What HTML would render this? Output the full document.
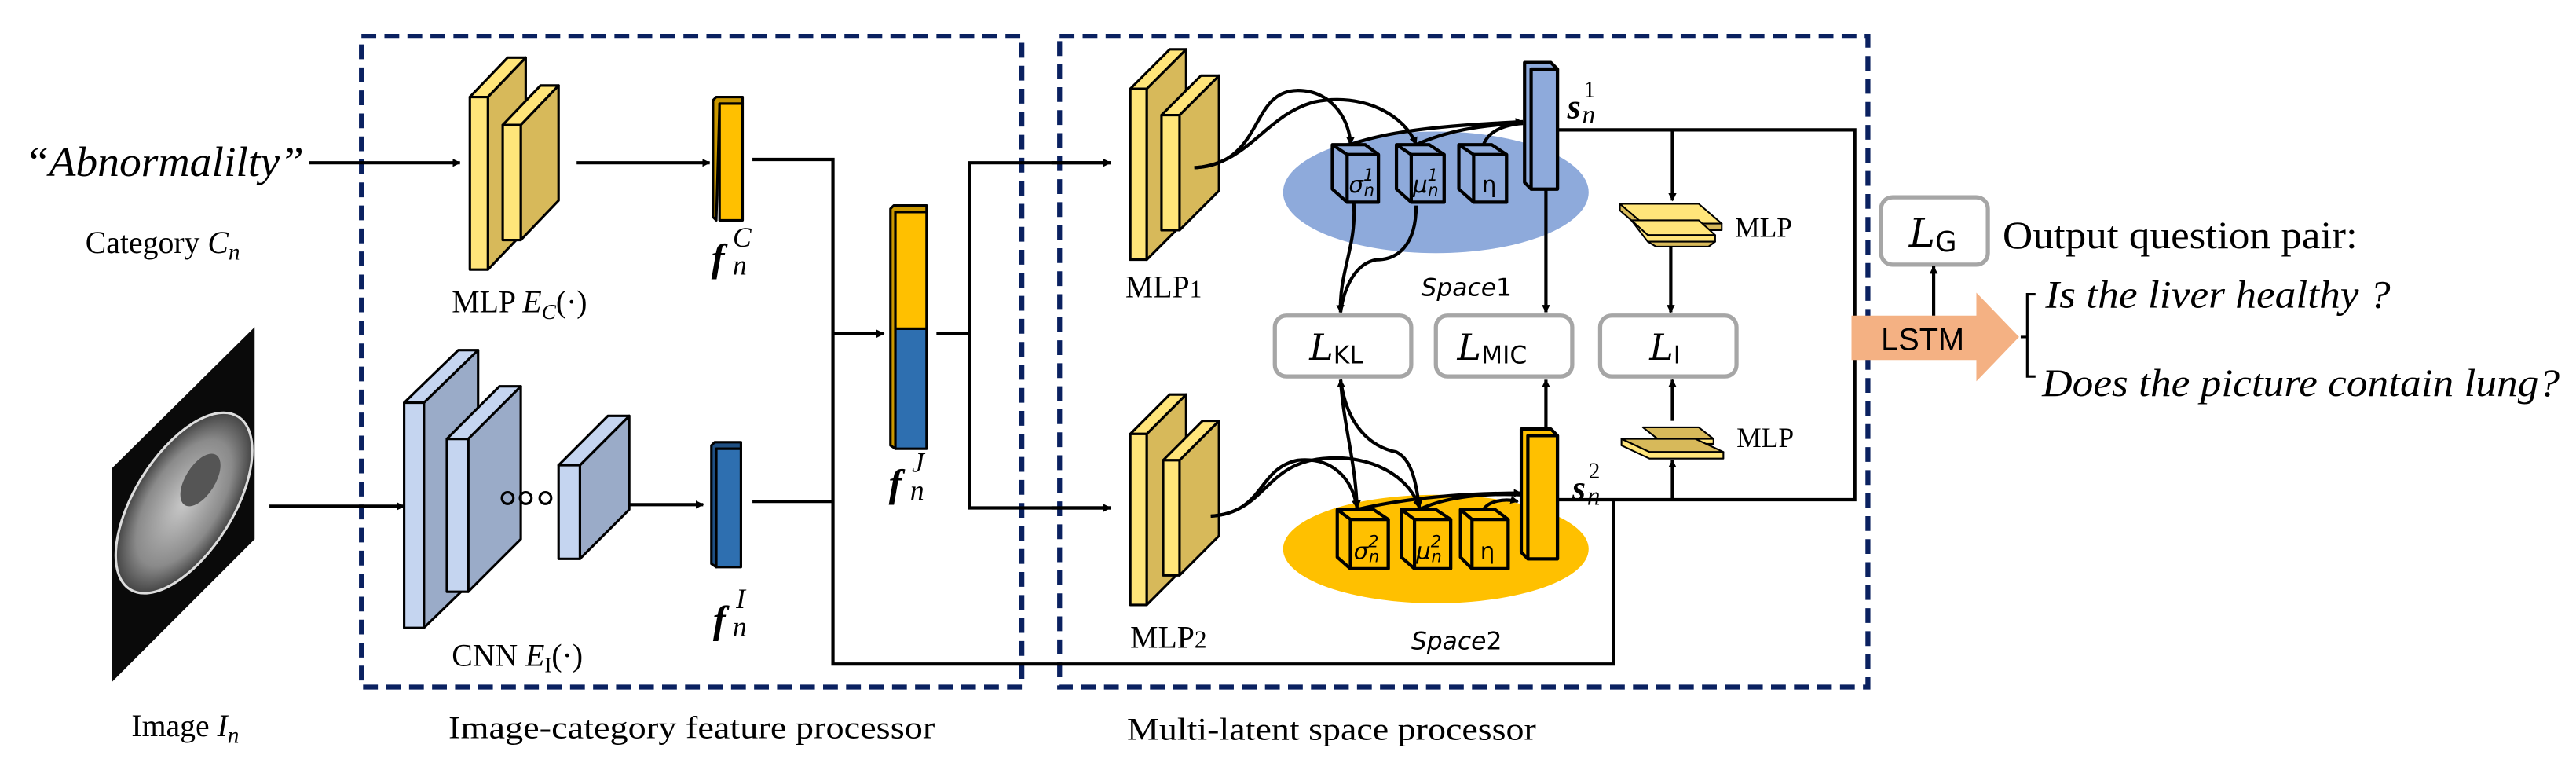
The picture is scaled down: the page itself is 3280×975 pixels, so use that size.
<!DOCTYPE html>
<html><head><meta charset="utf-8"><style>html,body{margin:0;padding:0;background:#fff}svg{display:block}</style></head>
<body>
<svg width="3280" height="975" viewBox="0 0 1568 466" xmlns="http://www.w3.org/2000/svg" font-family="'Liberation Serif', serif">
<defs>
<marker id="ah" viewBox="0 0 10 10" refX="9" refY="5" markerWidth="5" markerHeight="5" orient="auto-start-reverse" markerUnits="userSpaceOnUse"><path d="M0,0 L10,5 L0,10 z" fill="#000"/></marker>
<radialGradient id="ct" cx="50%" cy="50%" r="50%"><stop offset="0" stop-color="#c8c8c8"/><stop offset="0.7" stop-color="#8a8a8a"/><stop offset="1" stop-color="#444"/></radialGradient>
</defs>
<g fill="none" stroke="#0a2160" stroke-width="3" stroke-dasharray="9,5">
<rect x="220" y="22" width="402" height="396"/>
<rect x="645" y="22" width="492" height="396"/>
</g>
<text x="15" y="107" font-size="26" font-style="italic" textLength="170" lengthAdjust="spacingAndGlyphs">“Abnormalilty”</text>
<text x="52" y="154" font-size="19">Category <tspan font-style="italic">C</tspan><tspan font-style="italic" font-size="14" dy="4">n</tspan></text>
<polygon points="68,285 155,199 155,328 68,415" fill="#0a0a0a"/>
<ellipse cx="112" cy="306" rx="30" ry="62" transform="rotate(32 112 306)" fill="url(#ct)" stroke="#ddd" stroke-width="1.5"/>
<ellipse cx="122" cy="292" rx="9" ry="18" transform="rotate(32 122 292)" fill="#555"/>
<text x="80" y="448" font-size="19">Image <tspan font-style="italic">I</tspan><tspan font-style="italic" font-size="14" dy="4">n</tspan></text>
<g stroke="#000" stroke-width="2" fill="none">
<line x1="188" y1="99" x2="280" y2="99" marker-end="url(#ah)"/>
<line x1="164" y1="308" x2="246" y2="308" marker-end="url(#ah)"/>
<line x1="351" y1="99" x2="432" y2="99" marker-end="url(#ah)"/>
<line x1="376" y1="307" x2="428" y2="307" marker-end="url(#ah)"/>
<polyline points="458,97 507,97 507,404 982,404 982,304"/>
<line x1="458" y1="305" x2="507" y2="305"/>
<line x1="507" y1="203" x2="538" y2="203" marker-end="url(#ah)"/>
<polyline points="570,203 590,203"/>
<polyline points="676,99 590,99 590,309 676,309"/>
<line x1="640" y1="99" x2="676" y2="99" marker-end="url(#ah)"/>
<line x1="640" y1="309" x2="676" y2="309" marker-end="url(#ah)"/>
</g>
<g stroke="#000" stroke-width="1.5" stroke-linejoin="round">
<polygon points="297,59 320,35 320,140 297,164" fill="#d7b95a"/>
<polygon points="286,59 309,35 320,35 297,59" fill="#ffe57a"/>
<rect x="286" y="59" width="11" height="105" fill="#ffe57a"/>
<polygon points="317,76 340,52 340,122 317,146" fill="#d7b95a"/>
<polygon points="306,76 329,52 340,52 317,76" fill="#ffe57a"/>
<rect x="306" y="76" width="11" height="70" fill="#ffe57a"/>
</g>
<text x="275" y="190" font-size="19">MLP <tspan font-style="italic">E</tspan><tspan font-style="italic" font-size="13" dy="4">C</tspan><tspan dy="-4">(·)</tspan></text>
<g stroke="#000" stroke-width="1.5" stroke-linejoin="round">
<polygon points="258,245 291,213 291,350 258,382" fill="#9aabc8"/>
<polygon points="246,245 279,213 291,213 258,245" fill="#c5d5f0"/>
<rect x="246" y="245" width="12" height="137" fill="#c5d5f0"/>
<polygon points="285,267 317,235 317,328 285,360" fill="#9aabc8"/>
<polygon points="272,267 304,235 317,235 285,267" fill="#c5d5f0"/>
<rect x="272" y="267" width="13" height="93" fill="#c5d5f0"/>
<polygon points="353,283 383,253 383,310 353,340" fill="#9aabc8"/>
<polygon points="340,283 370,253 383,253 353,283" fill="#c5d5f0"/>
<rect x="340" y="283" width="13" height="57" fill="#c5d5f0"/>
<circle cx="309" cy="303" r="3.5" fill="none"/><circle cx="320" cy="303" r="3.5" fill="none"/><circle cx="332" cy="303" r="3.5" fill="none"/>
</g>
<text x="275" y="405" font-size="19">CNN <tspan font-style="italic">E</tspan><tspan font-size="13" dy="4">I</tspan><tspan dy="-4">(·)</tspan></text>
<g stroke="#000" stroke-width="1.5" stroke-linejoin="round">
<polygon points="434,61 436,59 452,59 452,63 438,63 436,134 434,132" fill="#c99700"/>
<rect x="438" y="63" width="14" height="71" fill="#ffc000"/>
<polygon points="433,271 435,269 451,269 451,273 436,273 436,345 433,343" fill="#1f4f82"/>
<rect x="436" y="273" width="15" height="72" fill="#2e6fb0"/>
<polygon points="542,127 544,125 564,125 564,129 545,129 545,273 542,271" fill="#c99700"/>
<rect x="545" y="129" width="19" height="71" fill="#ffc000"/>
<rect x="545" y="200" width="19" height="73" fill="#2e6fb0"/>
</g>
<g font-style="italic" font-weight="bold" font-size="24">
<text x="433" y="165">f</text><text x="434" y="385">f</text><text x="541" y="302">f</text>
</g>
<g font-style="italic" font-size="17">
<text x="446" y="150">C</text><text x="446" y="167">n</text>
<text x="448" y="370">I</text><text x="446" y="387">n</text>
<text x="555" y="287">J</text><text x="554" y="304">n</text>
</g>
<text x="273" y="449" font-size="19" textLength="296" lengthAdjust="spacingAndGlyphs">Image-category feature processor</text>
<g stroke="#000" stroke-width="1.5" stroke-linejoin="round">
<polygon points="698,54 722,30 722,134 698,158" fill="#d7b95a"/>
<polygon points="688,54 712,30 722,30 698,54" fill="#ffe57a"/>
<rect x="688" y="54" width="10" height="104" fill="#ffe57a"/>
<polygon points="718,70 742,46 742,116 718,140" fill="#d7b95a"/>
<polygon points="707,70 731,46 742,46 718,70" fill="#ffe57a"/>
<rect x="707" y="70" width="11" height="70" fill="#ffe57a"/>
<polygon points="698,264 722,240 722,344 698,368" fill="#d7b95a"/>
<polygon points="688,264 712,240 722,240 698,264" fill="#ffe57a"/>
<rect x="688" y="264" width="10" height="104" fill="#ffe57a"/>
<polygon points="718,280 742,256 742,326 718,350" fill="#d7b95a"/>
<polygon points="708,280 732,256 742,256 718,280" fill="#ffe57a"/>
<rect x="708" y="280" width="10" height="70" fill="#ffe57a"/>
</g>
<text x="685" y="181" font-size="19">MLP<tspan font-size="15">1</tspan></text>
<text x="688" y="394" font-size="19">MLP<tspan font-size="15">2</tspan></text>
<ellipse cx="874" cy="117" rx="93" ry="37" fill="#8eaadb"/>
<ellipse cx="874" cy="334" rx="93" ry="33" fill="#ffc000"/>
<g stroke="#000" stroke-width="2" stroke-linejoin="round">
<g fill="#8eaadb">
<polygon points="811,88 831,88 839,94 839,123 820,123 811,115"/><rect x="820" y="94" width="19" height="29"/><line x1="811" y1="88" x2="820" y2="94"/>
<polygon points="850,88 870,88 879,94 879,123 859,123 850,115"/><rect x="859" y="94" width="20" height="29"/><line x1="850" y1="88" x2="859" y2="94"/>
<polygon points="888,88 908,88 917,94 917,123 897,123 888,115"/><rect x="897" y="94" width="20" height="29"/><line x1="888" y1="88" x2="897" y2="94"/>
<polygon points="928,38 944,38 948,42 948,115 932,115 928,111"/><rect x="932" y="42" width="16" height="73"/>
</g>
<g fill="#ffc000">
<polygon points="814,310 836,310 845,316 845,346 822,346 814,339"/><rect x="822" y="316" width="23" height="30"/><line x1="814" y1="310" x2="822" y2="316"/>
<polygon points="853,310 874,310 883,316 883,346 861,346 853,339"/><rect x="861" y="316" width="22" height="30"/><line x1="853" y1="310" x2="861" y2="316"/>
<polygon points="889,310 910,310 918,316 918,346 896,346 889,339"/><rect x="896" y="316" width="22" height="30"/><line x1="889" y1="310" x2="896" y2="316"/>
<polygon points="926,261 944,261 948,265 948,340 930,340 926,336"/><rect x="930" y="265" width="18" height="75"/>
</g>
</g>
<g font-family="'DejaVu Sans', sans-serif" font-size="14">
<text x="821" y="117" font-style="italic">σ<tspan font-size="10" dy="-7">1</tspan><tspan font-size="10" dx="-6" dy="9">n</tspan></text>
<text x="860" y="117" font-style="italic">μ<tspan font-size="10" dy="-7">1</tspan><tspan font-size="10" dx="-6" dy="9">n</tspan></text>
<text x="902" y="117">η</text>
<text x="824" y="340" font-style="italic">σ<tspan font-size="10" dy="-7">2</tspan><tspan font-size="10" dx="-6" dy="9">n</tspan></text>
<text x="862" y="340" font-style="italic">μ<tspan font-size="10" dy="-7">2</tspan><tspan font-size="10" dx="-6" dy="9">n</tspan></text>
<text x="901" y="340">η</text>
</g>
<text x="954" y="72" font-size="21" font-style="italic" font-weight="bold">s</text><text x="964" y="59" font-size="14">1</text><text x="963" y="75" font-size="16" font-style="italic">n</text>
<text x="957" y="304" font-size="21" font-style="italic" font-weight="bold">s</text><text x="967" y="291" font-size="14">2</text><text x="966" y="307" font-size="16" font-style="italic">n</text>
<text x="865" y="180" font-size="15" font-style="italic" font-family="'DejaVu Sans', sans-serif">Space<tspan font-style="normal">1</tspan></text>
<text x="859" y="395" font-size="15" font-style="italic" font-family="'DejaVu Sans', sans-serif">Space<tspan font-style="normal">2</tspan></text>
<g fill="#fff" stroke="#a6a6a6" stroke-width="2.5">
<rect x="776" y="192" width="83" height="37" rx="7"/>
<rect x="874" y="192" width="83" height="37" rx="7"/>
<rect x="974" y="192" width="83" height="37" rx="7"/>
<rect x="1145" y="120" width="65" height="41" rx="7"/>
</g>
<g font-family="'DejaVu Serif', serif" font-style="italic" font-size="22">
<text x="797" y="219">L<tspan font-style="normal" font-family="'DejaVu Sans', sans-serif" font-size="15" dy="2">KL</tspan></text>
<text x="887" y="219">L<tspan font-style="normal" font-family="'DejaVu Sans', sans-serif" font-size="15" dy="2">MIC</tspan></text>
<text x="1004" y="219">L<tspan font-style="normal" font-family="'DejaVu Sans', sans-serif" font-size="15" dy="2">I</tspan></text>
<text x="1162" y="150" font-size="24">L<tspan font-style="normal" font-family="'DejaVu Sans', sans-serif" font-size="17" dy="3">G</tspan></text>
</g>
<g stroke="#000" stroke-width="1" stroke-linejoin="round">
<polygon points="986,124 1034,124 1048,136 1000,136" fill="#ffe57a"/>
<polygon points="986,124 1000,136 1048,136 1048,140 1000,140 986,128" fill="#d7b95a"/>
<polygon points="993,134 1034,134 1044,143 1003,143" fill="#ffe57a"/>
<polygon points="993,134 1003,143 1044,143 1044,147 1003,147" fill="#ffe57a"/>
<polygon points="1003,147 1044,147 1040,150 1008,150" fill="#d7b95a"/>
<polygon points="1000,260 1034,260 1043,267 1009,267" fill="#d7b95a"/>
<polygon points="1009,267 1043,267 1043,270 1009,270" fill="#ffe57a"/>
<polygon points="987,267 1032,267 1049,275 1004,275" fill="#d7b95a"/>
<polygon points="1004,275 1049,275 1049,279 1004,279 987,271 987,267" fill="#ffe57a"/>
</g>
<text x="1056" y="144" font-size="17">MLP</text>
<text x="1057" y="272" font-size="17">MLP</text>
<g stroke="#000" stroke-width="2" fill="none">
<polyline points="948,79 1129,79 1129,304 948,304"/>
<line x1="1018" y1="79" x2="1018" y2="122" marker-end="url(#ah)"/>
<line x1="1017" y1="150" x2="1017" y2="190" marker-end="url(#ah)"/>
<line x1="941" y1="115" x2="941" y2="190" marker-end="url(#ah)"/>
<line x1="941" y1="261" x2="941" y2="231" marker-end="url(#ah)"/>
<line x1="1018" y1="304" x2="1018" y2="280" marker-end="url(#ah)"/>
<line x1="1018" y1="256" x2="1018" y2="231" marker-end="url(#ah)"/>
<path d="M727,102 C770,100 760,55 790,55 C812,55 822,75 822,88" marker-end="url(#ah)"/>
<path d="M727,102 C760,100 770,70 800,62 C830,56 855,70 862,88" marker-end="url(#ah)"/>
<path d="M822,88 C850,78 890,76 927,74" marker-end="url(#ah)"/>
<path d="M862,88 C880,80 900,76 927,75"/>
<path d="M903,88 C906,80 915,76 927,75"/>
<path d="M824,123 C826,150 815,165 816,190" marker-end="url(#ah)"/>
<path d="M862,125 C862,150 850,158 838,158 C825,160 818,175 816,190"/>
<path d="M816,231 C818,260 825,280 826,309" marker-start="url(#ah)" marker-end="url(#ah)"/>
<path d="M816,231 C820,260 835,272 850,275 C860,280 862,295 864,309" marker-end="url(#ah)"/>
<path d="M737,314 C770,312 765,285 790,280 C810,278 823,290 826,309" marker-end="url(#ah)"/>
<path d="M737,314 C770,312 770,282 805,279 C835,276 858,290 864,309" marker-end="url(#ah)"/>
<path d="M826,310 C860,302 895,300 926,300" marker-end="url(#ah)"/>
<path d="M864,310 C880,302 905,300 926,301"/>
<path d="M903,310 C906,305 915,303 924,305" marker-end="url(#ah)"/>
</g>
<text x="686" y="450" font-size="19" textLength="249" lengthAdjust="spacingAndGlyphs">Multi-latent space processor</text>
<polygon points="1127,192 1203,192 1203,178 1229,205 1203,232 1203,219 1127,219" fill="#f4b183"/>
<text x="1145" y="213" font-size="19" font-family="'Liberation Sans', sans-serif">LSTM</text>
<line x1="1177" y1="192" x2="1177" y2="162" stroke="#000" stroke-width="2" marker-end="url(#ah)"/>
<path d="M1239,179 L1234,179 L1234,229 L1239,229 M1234,205 L1230,205" stroke="#000" stroke-width="1.5" fill="none"/>
<text x="1219" y="151" font-size="24" textLength="216" lengthAdjust="spacingAndGlyphs">Output question pair:</text>
<text x="1245" y="187" font-size="24" font-style="italic" textLength="210" lengthAdjust="spacingAndGlyphs">Is the liver healthy ?</text>
<text x="1243" y="241" font-size="24" font-style="italic" textLength="315" lengthAdjust="spacingAndGlyphs">Does the picture contain lung?</text>
</svg>
</body></html>
